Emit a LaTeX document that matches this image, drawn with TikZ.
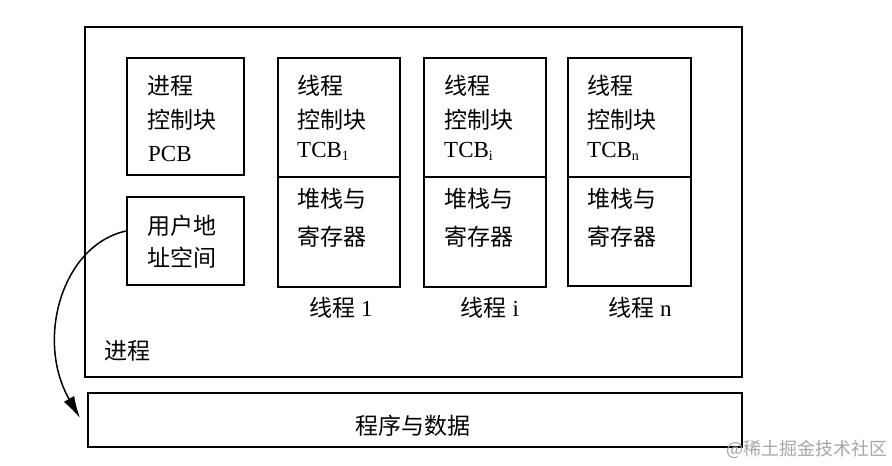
\documentclass[tikz,border=0pt]{standalone}
\usepackage{fontspec}
\setmainfont{Liberation Serif}
\newfontfamily\cjk{Noto Sans CJK SC}
\usetikzlibrary{arrows.meta}
\newcommand\subx[1]{\raisebox{-3pt}{\fontsize{14pt}{14pt}\selectfont #1}}
\begin{document}
\begin{tikzpicture}[x=1pt,y=-1pt,
  box/.style={draw, line width=2pt, inner sep=0pt, anchor=north west},
  txt/.style={anchor=base west, inner sep=0pt, font=\fontsize{23pt}{23pt}\selectfont},
  ctxt/.style={anchor=base, inner sep=0pt, font=\fontsize{23pt}{23pt}\selectfont},
  arr/.style={line width=1.5pt, -{Latex[length=22pt,width=12pt]}}]
\useasboundingbox (0,0) rectangle (892,466);
% outer process box
\node[box, minimum width=657pt, minimum height=350pt] (outer) at (84,26) {};
% PCB
\node[box, minimum width=117pt, minimum height=117pt] (pcb) at (126,57) {};
\node[txt] (pcb1) at (147,94) {\cjk 进程};
\node[txt] (pcb2) at (147,128) {\cjk 控制块};
\node[txt] (pcb3) at (148,161) {PCB};
% user address space
\node[box, minimum width=117pt, minimum height=88pt] (uas) at (126,196) {};
\node[txt] (uas1) at (147,234) {\cjk 用户地};
\node[txt] (uas2) at (147,266) {\cjk 址空间};
% thread 1
\node[box, minimum width=122pt, minimum height=119pt] (t1a) at (277,57) {};
\node[box, minimum width=122pt, minimum height=110pt] (t1b) at (277,176) {};
\node[txt] (t1l1) at (297,94) {\cjk 线程};
\node[txt] (t1l2) at (297,128) {\cjk 控制块};
\node[txt] (t1l3) at (297,157) {TCB\subx{1}};
\node[txt] (t1l4) at (297,207) {\cjk 堆栈与};
\node[txt] (t1l5) at (297,245) {\cjk 寄存器};
\node[ctxt] (t1n) at (341,316) {{\cjk 线程}\ 1};
% thread i
\node[box, minimum width=122pt, minimum height=119pt] (tia) at (423,57) {};
\node[box, minimum width=122pt, minimum height=110pt] (tib) at (423,176) {};
\node[txt] (til1) at (444,94) {\cjk 线程};
\node[txt] (til2) at (444,128) {\cjk 控制块};
\node[txt] (til3) at (444,157) {TCB\subx{i}};
\node[txt] (til4) at (444,207) {\cjk 堆栈与};
\node[txt] (til5) at (444,245) {\cjk 寄存器};
\node[ctxt] (tin) at (490,316) {{\cjk 线程}\ i};
% thread n
\node[box, minimum width=123pt, minimum height=119pt] (tna) at (567,57) {};
\node[box, minimum width=123pt, minimum height=109pt] (tnb) at (567,176) {};
\node[txt] (tnl1) at (587,94) {\cjk 线程};
\node[txt] (tnl2) at (587,128) {\cjk 控制块};
\node[txt] (tnl3) at (587,157) {TCB\subx{n}};
\node[txt] (tnl4) at (587,207) {\cjk 堆栈与};
\node[txt] (tnl5) at (587,245) {\cjk 寄存器};
\node[ctxt] (tnn) at (640,316) {{\cjk 线程}\ n};
% process label
\node[txt] (proc) at (104,359) {\cjk 进程};
% program and data
\node[box, minimum width=654pt, minimum height=54pt] (data) at (87,392) {};
\node[ctxt] (datal) at (413,434) {\cjk 程序与数据};
% arrow
\coordinate (aend) at (80,418);
\draw[arr] ([yshift=10pt]uas.west) .. controls (62,245) and (35,340) .. (aend);
% watermark
\node[anchor=base east, inner sep=0pt, text=black!35, font=\fontsize{18pt}{18pt}\selectfont] (wm) at (888,455) {{\cjk @稀土掘金技术社区}};
\end{tikzpicture}
\end{document}
